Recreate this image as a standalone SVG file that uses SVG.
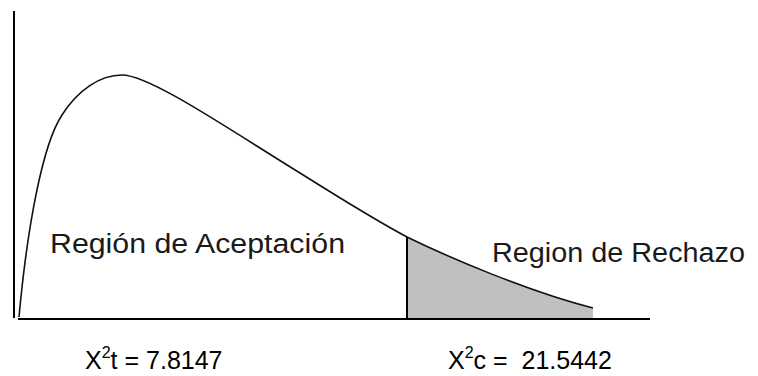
<svg xmlns="http://www.w3.org/2000/svg" width="758" height="376" viewBox="0 0 758 376">
<style>
.ax{stroke:#000;stroke-width:2;fill:none}
.cv{stroke:#111;stroke-width:1.6;fill:none}
.lbl{font-family:"Liberation Sans",Arial,sans-serif;font-size:27px;fill:#1a1a1a}
.val{font-family:"Liberation Sans",Arial,sans-serif;font-size:25px;fill:#000;white-space:pre}
</style>
<rect width="758" height="376" fill="#fff"/>
<g id="shade">
<path d="M407,237 C450,258 530,292 593,308 L593,318 L407,318 Z" fill="#c0c0c0"/>
</g>
<g id="axes">
<line class="ax" x1="14" y1="11" x2="14" y2="318"/>
<line class="ax" x1="18" y1="319" x2="650" y2="319"/>
</g>
<g id="curve">
<path class="cv" d="M19,317 C27,230 42,145 62,115 C78,90 100,75 122,75 C150,75 230,130 300,173 C335,195 375,220 407,237 C450,258 530,292 593,308"/>
<line class="ax" x1="407" y1="237" x2="407" y2="318"/>
</g>
<g id="labels">
<text class="lbl" x="50" y="253" textLength="295" lengthAdjust="spacingAndGlyphs">Región de Aceptación</text>
<text class="lbl" x="492" y="262" textLength="253" lengthAdjust="spacingAndGlyphs">Region de Rechazo</text>
<text class="val" x="85" y="369">X<tspan font-size="16" dy="-11">2</tspan><tspan dy="11">t = 7.8147</tspan></text>
<text class="val" x="448" y="369" xml:space="preserve">X<tspan font-size="16" dy="-11">2</tspan><tspan dy="11">c =  21.5442</tspan></text>
</g>
</svg>
